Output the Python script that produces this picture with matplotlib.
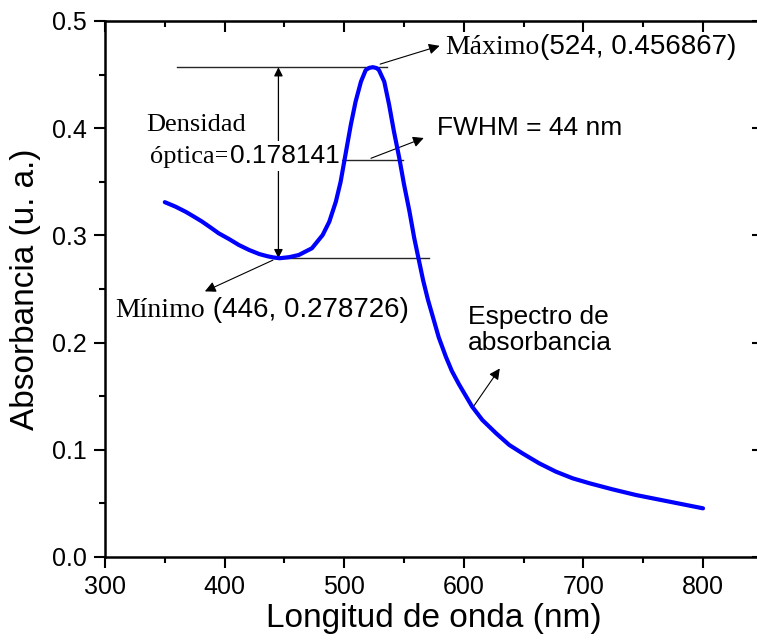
import numpy as np
import matplotlib
matplotlib.use('Agg')
import matplotlib.pyplot as plt
from matplotlib.ticker import MultipleLocator

plt.rcParams['font.family'] = ['Liberation Sans', 'DejaVu Sans']

# absorption spectrum
wavelength = [350, 359, 367.5, 374.5, 381, 388.5, 395, 404, 412, 420.5, 429,
              436, 441, 446, 454, 462, 473, 482, 487.5, 493, 497, 501, 505.5,
              509.5, 514, 518, 521, 524, 527, 529, 533.5, 537.5, 541.5, 546,
              550, 554.5, 558.5, 562.5, 566, 570, 574, 579, 585, 590, 596, 607,
              615.5, 627, 638, 649, 663, 677, 691, 705, 724, 744, 772, 800]
absorbance = [0.331, 0.3268, 0.322, 0.3174, 0.313, 0.3072, 0.302, 0.2964,
              0.291, 0.2864, 0.2826, 0.2805, 0.2794, 0.2787, 0.2797, 0.2817,
              0.288, 0.3004, 0.3127, 0.3314, 0.350, 0.375, 0.403, 0.4247,
              0.4434, 0.4543, 0.4563, 0.4569, 0.4561, 0.4543, 0.4434, 0.4221,
              0.3974, 0.3724, 0.3476, 0.3227, 0.2978, 0.2765, 0.258, 0.240,
              0.2245, 0.205, 0.1868, 0.1735, 0.161, 0.1402, 0.1278, 0.1154,
              0.1045, 0.0967, 0.0874, 0.0796, 0.0734, 0.0688, 0.0632, 0.0578,
              0.0516, 0.0454]

peak = (524, 0.456867)
valley = (446, 0.278726)
fwhm_level = 0.370
fwhm_span = (495, 549)

fig = plt.figure(figsize=(7.57, 6.42), dpi=100)
ax = fig.add_axes([0.1387, 0.1324, 0.869, 0.8349])

ax.plot(wavelength, absorbance, color='#0000ff', lw=3,
        solid_joinstyle='round', solid_capstyle='round', zorder=5)

ax.set_xlim(300, 850)
ax.set_ylim(0, 0.5)
ax.set_xticks([300, 400, 500, 600, 700, 800])
ax.set_yticks([0.0, 0.1, 0.2, 0.3, 0.4, 0.5])
ax.set_yticklabels(['0.0', '0.1', '0.2', '0.3', '0.4', '0.5'])
ax.xaxis.set_minor_locator(MultipleLocator(50))
ax.yaxis.set_minor_locator(MultipleLocator(0.05))
ax.tick_params(which='major', direction='out', length=8, width=1.5,
               labelsize=18, pad=5)
ax.tick_params(which='minor', direction='out', length=4.5, width=1.5)
for s in ax.spines.values():
    s.set_linewidth(1.8)

# top/right ticks point inward
top = ax.secondary_xaxis('top')
top.set_xticks([300, 400, 500, 600, 700, 800])
top.xaxis.set_minor_locator(MultipleLocator(50))
top.tick_params(which='major', direction='in', length=8, width=1.5, labeltop=False)
top.tick_params(which='minor', direction='in', length=4.5, width=1.5)
right = ax.secondary_yaxis('right')
right.set_yticks([0.0, 0.1, 0.2, 0.3, 0.4, 0.5])
right.yaxis.set_minor_locator(MultipleLocator(0.05))
right.tick_params(which='major', direction='in', length=8, width=1.5, labelright=False)
right.tick_params(which='minor', direction='in', length=4.5, width=1.5)

ax.set_xlabel('Longitud de onda (nm)', fontsize=24, labelpad=3)
ax.set_ylabel('Absorbancia (u. a.)', fontsize=24, labelpad=8)

# reference lines
ax.plot([360.5, 536], [peak[1], peak[1]], color='0.15', lw=1, zorder=2)
ax.plot([442.5, 571], [valley[1], valley[1]], color='0.15', lw=1, zorder=2)
ax.plot(list(fwhm_span), [fwhm_level, fwhm_level], color='0.15', lw=1, zorder=2)

arrow = dict(arrowstyle='-|>', color='black', lw=0.8, mutation_scale=16)
ax.annotate('', xy=(445, peak[1]), xytext=(445, valley[1]),
            arrowprops=dict(arrowstyle='<|-|>', color='black', lw=0.9,
                            mutation_scale=13, shrinkA=0, shrinkB=0), zorder=2)
ax.annotate('', xy=(582, 0.4776), xytext=(527.8, 0.459), arrowprops=arrow)
ax.annotate('', xy=(568.7, 0.3918), xytext=(520.2, 0.371), arrowprops=arrow)
ax.annotate('', xy=(381.4, 0.2467), xytext=(442.5, 0.278), arrowprops=arrow)
ax.annotate('', xy=(631.4, 0.178), xytext=(607.2, 0.139), arrowprops=arrow)

serif = ['Liberation Serif', 'DejaVu Serif']

t = ax.text(584.6, 0.4757, 'Máximo', family=serif, fontsize=20, va='center')
ax.annotate('(524, 0.456867)', xy=(1, 0), xycoords=t, fontsize=20,
            va='bottom', ha='left')

ax.text(577.9, 0.4002, 'FWHM = 44 nm', fontsize=19, va='center')

t = ax.text(308.7, 0.2304, 'Mínimo', family=serif, fontsize=20, va='center')
ax.annotate(' (446, 0.278726)', xy=(1, 0), xycoords=t, fontsize=20,
            va='bottom', ha='left')

ax.text(334.6, 0.403, 'Densidad', family=serif, fontsize=19, va='center')
t = ax.text(338, 0.373, 'óptica=', family=serif, fontsize=19, va='center',
            bbox=dict(boxstyle='square,pad=0.1', fc='white', ec='none'), zorder=3)
ax.annotate('0.178141', xy=(1, 0), xycoords=t, fontsize=19, va='bottom',
            ha='left', zorder=3,
            bbox=dict(boxstyle='square,pad=0.1', fc='white', ec='none'))

ax.text(603.8, 0.2118, 'Espectro de\nabsorbancia', fontsize=19, va='center',
        linespacing=1.15)

fig.savefig('out.png', dpi=100)
